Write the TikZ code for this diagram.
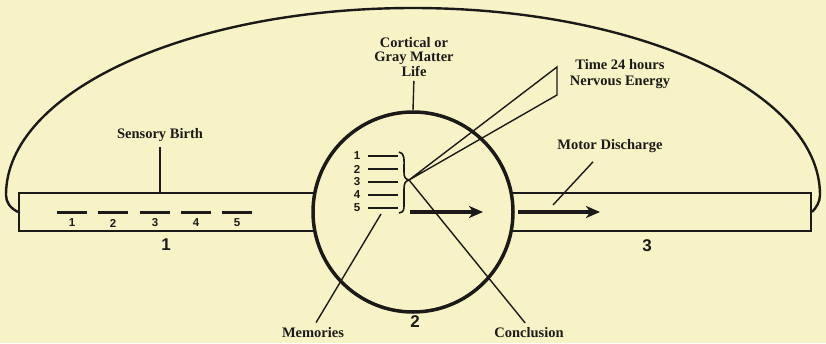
\documentclass[tikz,border=0pt]{standalone}
\usepackage{fontspec}
\setmainfont{Liberation Serif}
\newfontfamily\numfont{Liberation Sans}
\usetikzlibrary{arrows.meta,calc}
\definecolor{paper}{RGB}{248,243,198}
\definecolor{ink}{RGB}{28,26,24}
\begin{document}
\begin{tikzpicture}[x=1pt,y=-1pt,
  lbl/.style={font=\bfseries\fontsize{14.5}{14.5}\selectfont, text=ink, inner sep=0pt, align=center},
  digit/.style={font=\numfont\bfseries\fontsize{11.5}{11.5}\selectfont, text=ink, inner sep=0pt},
  bignum/.style={font=\numfont\bfseries\fontsize{17}{17}\selectfont, text=ink, inner sep=0pt},
  tube/.style={draw=ink, line width=2pt, inner sep=0pt, minimum height=38pt},
  bar/.style={draw=ink, line width=3pt},
  thinbar/.style={draw=ink, line width=2.4pt},
  leader/.style={draw=ink, line width=1.4pt},
  arcline/.style={draw=ink, line width=2.4pt},
  bigarrow/.style={draw=ink, line width=4pt, -{Stealth[length=14pt,width=12pt,inset=4pt]}}]
\useasboundingbox (0,0) rectangle (826,343);
\fill[paper] (0,0) rectangle (826,343);

% tubes
\node[tube, minimum width=395pt, anchor=west] (L) at (18,212) {};
\node[tube, minimum width=399pt, anchor=east] (R) at (812,212) {};
% brain circle
\node[circle, draw=ink, fill=paper, line width=3.5pt, minimum size=200pt, inner sep=0pt] (brain) at (413,212) {};

% big loop
\draw[arcline] (L.west) .. controls (10,208) and (6,202) .. (6,195)
  arc[start angle=180, end angle=360, x radius=407, y radius=187]
  .. controls (820,202) and (816,208) .. (R.east);

% sensory bars in tube 1
\foreach \i/\x in {1/72,2/113,3/155,4/196,5/237}{
  \node[digit] (s\i) at (\x,223) {\i};
  \draw[bar] (\x-15,212) -- (\x+15,212);
}
% memory bars in circle
\foreach \i/\y in {1/156,2/169,3/182,4/195,5/208}{
  \node[digit] (m\i) at (357,\y) {\i};
  \draw[thinbar] (368,\y) -- (398,\y);
}
% brace
\coordinate (tip) at (409,180);
\draw[leader, line width=1.6pt] (399,152) .. controls (405,153) and (404,160) .. (404,168)
  -- (404,172) .. controls (404,177) and (405,179) .. (tip)
  .. controls (405,181) and (404,184) .. (404,189)
  -- (404,204) .. controls (404,210) and (404,212) .. (399,213);

% wedge to time
\coordinate (w1) at (557,67);
\coordinate (w2) at (557,95);
\draw[leader, line join=miter] (tip) -- (w1) -- (w2) -- cycle;

% arrows
\coordinate (a1) at (410,212); \coordinate (a2) at (483,212);
\coordinate (b1) at (518,212); \coordinate (b2) at (600,212);
\draw[bigarrow] (a1) -- (a2);
\draw[bigarrow] (b1) -- (b2);

% labels
\node[lbl] (sb) at (160,135) {Sensory Birth};
\node[lbl] (ctx) at (414,57) {Cortical or\\Gray Matter\\Life};
\node[lbl] (time) at (620,74) {Time 24 hours\\[1.5pt]Nervous Energy};
\node[lbl] (motor) at (610,146) {Motor Discharge};
\node[lbl] (mem) at (313,333) {Memories};
\node[lbl] (conc) at (529,333) {Conclusion};
\node[bignum] (n1) at (166,245) {1};
\node[bignum] (n2) at (415,322) {2};
\node[bignum] (n3) at (647,246) {3};

% leaders
\draw[leader] (sb.south) ++(0,5) -- (sb.south |- L.north);
\draw[leader, shorten <=4pt] (ctx.south) -- (brain.north);
\coordinate (memtip) at (381,214);
\draw[leader, shorten <=6pt] (mem.north) -- (memtip);
\draw[leader, shorten >=6pt] (tip) -- (conc.north);
\coordinate (mtip) at (553,205);
\draw[leader] ($(motor.south)+(-17,9)$) -- (mtip);
\end{tikzpicture}
\end{document}
